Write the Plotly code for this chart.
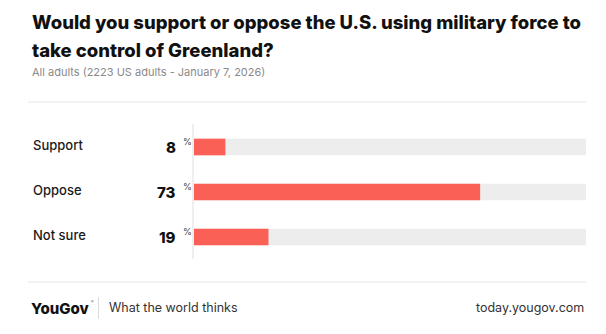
import plotly.graph_objects as go

categories = ["Support", "Oppose", "Not sure"]
values = [8, 73, 19]
title_lines = ["Would you support or oppose the U.S. using military force to", "take control of Greenland?"]
subtitle = "All adults (2223 US adults - January 7, 2026)"

W, H = 606, 334
BAR = "#fa6055"
BG = "#ededed"
FONT = "Inter, Roboto, Arial, sans-serif"

ypos = list(range(len(categories)))

fig = go.Figure()
fig.add_trace(go.Bar(x=[100] * len(values), y=ypos, orientation="h", marker=dict(color=BG, line=dict(width=0)),
                     width=0.37, hoverinfo="skip"))
fig.add_trace(go.Bar(x=values, y=ypos, orientation="h", marker=dict(color=BAR, line=dict(width=0)),
                     width=0.37, hoverinfo="skip"))

def px(x):
    return x / W

def py(y):
    return 1 - y / H

ann = []
for i, line in enumerate(title_lines):
    ann.append(dict(x=px(30), y=py(22 + 28 * i), xref="paper", yref="paper", text=line,
                    showarrow=False, xanchor="left", yanchor="middle",
                    font=dict(family=FONT, size=18.5, color="#111", weight=800)))
ann.append(dict(x=px(30), y=py(72), xref="paper", yref="paper", text=subtitle,
                showarrow=False, xanchor="left", yanchor="middle", font=dict(family=FONT, size=11, color="#8a8a8a")))

for c, v, yv in zip(categories, values, ypos):
    ann.append(dict(x=px(31), y=yv - 0.04, xref="paper", yref="y", text=c, showarrow=False, xanchor="left",
                    yanchor="middle", font=dict(family=FONT, size=13, color="#1a1a1a", weight=500)))
    ann.append(dict(x=px(178), y=yv, xref="paper", yref="y", text=str(v), showarrow=False, xanchor="right",
                    yanchor="middle", font=dict(family=FONT, size=15, color="#111", weight=800)))
    ann.append(dict(x=px(181), y=yv - 0.12, xref="paper", yref="y", text="%", showarrow=False, xanchor="left",
                    yanchor="middle", font=dict(family=FONT, size=9, color="#444")))

ann.append(dict(x=px(29), y=py(308), xref="paper", yref="paper", text="YouGov", showarrow=False,
                xanchor="left", yanchor="middle", font=dict(family=FONT, size=15, color="#111", weight=800)))
ann.append(dict(x=px(89), y=py(301), xref="paper", yref="paper", text="®", showarrow=False,
                xanchor="left", yanchor="middle", font=dict(family=FONT, size=4, color="#666")))
ann.append(dict(x=px(107), y=py(307), xref="paper", yref="paper", text="What the world thinks", showarrow=False,
                xanchor="left", yanchor="middle", font=dict(family=FONT, size=12.5, color="#333")))
ann.append(dict(x=px(586), y=py(307), xref="paper", yref="paper", text="today.yougov.com", showarrow=False,
                xanchor="right", yanchor="middle", font=dict(family=FONT, size=12.5, color="#333")))

shapes = [
    dict(type="line", xref="paper", yref="paper", x0=px(28), x1=px(586), y0=py(102), y1=py(102),
         line=dict(color="#e6e6e6", width=1)),
    dict(type="line", xref="paper", yref="paper", x0=px(28), x1=px(586), y0=py(282), y1=py(282),
         line=dict(color="#e6e6e6", width=1)),
    dict(type="line", xref="paper", yref="paper", x0=px(193), x1=px(193), y0=py(124), y1=py(259),
         line=dict(color="#dedede", width=1)),
    dict(type="line", xref="paper", yref="paper", x0=px(98.5), x1=px(98.5), y0=py(297), y1=py(319),
         line=dict(color="#dcdcdc", width=1)),
]

fig.update_layout(
    width=W, height=H, margin=dict(l=0, r=0, t=0, b=0),
    paper_bgcolor="white", plot_bgcolor="rgba(0,0,0,0)",
    barmode="overlay", showlegend=False,
    xaxis=dict(range=[0, 100], domain=[194 / W, 586 / W], visible=False, fixedrange=True),
    yaxis=dict(range=[4.1556, -3.2667], visible=False, fixedrange=True),
    annotations=ann, shapes=shapes,
)

fig.write_html("out.html", config={"displayModeBar": False})
